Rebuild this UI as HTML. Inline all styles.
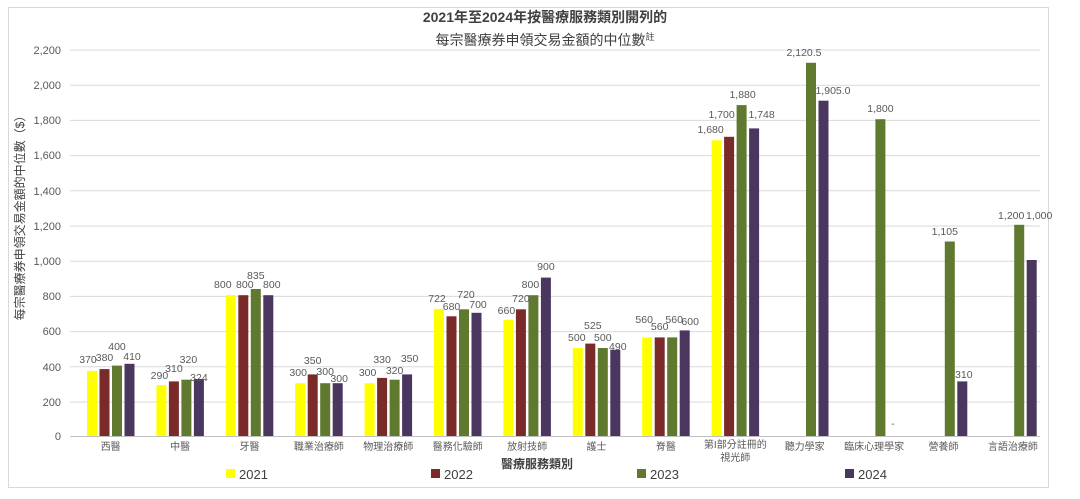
<!DOCTYPE html>
<html><head><meta charset="utf-8"><style>
html,body{margin:0;padding:0;background:#fff;}
svg{display:block;font-family:"Liberation Sans","Noto Sans CJK TC",sans-serif;}
.v{font-size:10.5px;fill:#595959;text-anchor:middle;}
.c{font-size:10px;fill:#595959;text-anchor:middle;}
.t{font-size:11px;fill:#595959;text-anchor:end;}
</style></head><body>
<svg width="1080" height="499" viewBox="0 0 1080 499">
<rect x="8.5" y="7.5" width="1040" height="480" fill="#fff" stroke="#d9d9d9"/>
<text x="545" y="22" text-anchor="middle" font-size="14" font-weight="bold" fill="#404040">2021年至2024年按醫療服務類別開列的</text>
<text x="545" y="45" text-anchor="middle" font-size="14" fill="#404040">每宗醫療券申領交易金額的中位數<tspan font-size="9" dy="-5">註</tspan></text>
<g stroke="#d9d9d9" stroke-width="1">
<line x1="70" x2="1040" y1="50" y2="50"/><line x1="70" x2="1040" y1="85.2" y2="85.2"/><line x1="70" x2="1040" y1="120.4" y2="120.4"/><line x1="70" x2="1040" y1="155.6" y2="155.6"/><line x1="70" x2="1040" y1="190.8" y2="190.8"/><line x1="70" x2="1040" y1="226" y2="226"/><line x1="70" x2="1040" y1="261.2" y2="261.2"/><line x1="70" x2="1040" y1="296.4" y2="296.4"/><line x1="70" x2="1040" y1="331.6" y2="331.6"/><line x1="70" x2="1040" y1="366.8" y2="366.8"/><line x1="70" x2="1040" y1="402" y2="402"/><line x1="70" x2="1040" y1="436.5" y2="436.5" stroke="#bfbfbf"/>
</g>
<g class="t">
<text class="t" x="61" y="54">2,200</text><text class="t" x="61" y="89">2,000</text><text class="t" x="61" y="124">1,800</text><text class="t" x="61" y="159">1,600</text><text class="t" x="61" y="195">1,400</text><text class="t" x="61" y="230">1,200</text><text class="t" x="61" y="265">1,000</text><text class="t" x="61" y="300">800</text><text class="t" x="61" y="335">600</text><text class="t" x="61" y="371">400</text><text class="t" x="61" y="406">200</text><text class="t" x="61" y="440">0</text>
</g>
<text transform="translate(24,215) rotate(-90)" text-anchor="middle" font-size="12" fill="#404040">每宗醫療券申領交易金額的中位數（$）</text>

<g transform="translate(87,0)">
<rect x="0" y="370.9" width="10" height="65.1" fill="#ffff00"/><rect x="12.5" y="369.1" width="10" height="66.9" fill="#7b2a2a"/><rect x="25" y="365.6" width="10" height="70.4" fill="#5f7a2e"/><rect x="37.5" y="363.8" width="10" height="72.2" fill="#4b3660"/>
<text class="v" x="1" y="363">370</text><text class="v" x="17.5" y="361">380</text><text class="v" x="30" y="350">400</text><text class="v" x="45" y="360">410</text>
<text class="c" x="23.7" y="450">西醫</text></g>

<g transform="translate(156.4,0)">
<rect x="0" y="385" width="10" height="51" fill="#ffff00"/><rect x="12.5" y="381.4" width="10" height="54.6" fill="#7b2a2a"/><rect x="25" y="379.7" width="10" height="56.3" fill="#5f7a2e"/><rect x="37.5" y="379" width="10" height="57" fill="#4b3660"/>
<text class="v" x="3" y="379">290</text><text class="v" x="17.5" y="372">310</text><text class="v" x="32" y="363">320</text><text class="v" x="42.5" y="381">324</text>
<text class="c" x="23.7" y="450">中醫</text></g>

<g transform="translate(225.8,0)">
<rect x="0" y="295.2" width="10" height="140.8" fill="#ffff00"/><rect x="12.5" y="295.2" width="10" height="140.8" fill="#7b2a2a"/><rect x="25" y="289" width="10" height="147" fill="#5f7a2e"/><rect x="37.5" y="295.2" width="10" height="140.8" fill="#4b3660"/>
<text class="v" x="-3" y="288">800</text><text class="v" x="19" y="288">800</text><text class="v" x="30" y="279">835</text><text class="v" x="46" y="288">800</text>
<text class="c" x="23.7" y="450">牙醫</text></g>

<g transform="translate(295.2,0)">
<rect x="0" y="383.2" width="10" height="52.8" fill="#ffff00"/><rect x="12.5" y="374.4" width="10" height="61.6" fill="#7b2a2a"/><rect x="25" y="383.2" width="10" height="52.8" fill="#5f7a2e"/><rect x="37.5" y="383.2" width="10" height="52.8" fill="#4b3660"/>
<text class="v" x="3" y="376">300</text><text class="v" x="17.5" y="364">350</text><text class="v" x="30" y="375">300</text><text class="v" x="44" y="382">300</text>
<text class="c" x="23.7" y="450">職業治療師</text></g>

<g transform="translate(364.6,0)">
<rect x="0" y="383.2" width="10" height="52.8" fill="#ffff00"/><rect x="12.5" y="377.9" width="10" height="58.1" fill="#7b2a2a"/><rect x="25" y="379.7" width="10" height="56.3" fill="#5f7a2e"/><rect x="37.5" y="374.4" width="10" height="61.6" fill="#4b3660"/>
<text class="v" x="3" y="376">300</text><text class="v" x="17.5" y="363">330</text><text class="v" x="30" y="374">320</text><text class="v" x="45" y="362">350</text>
<text class="c" x="23.7" y="450">物理治療師</text></g>

<g transform="translate(434,0)">
<rect x="0" y="308.9" width="10" height="127.1" fill="#ffff00"/><rect x="12.5" y="316.3" width="10" height="119.7" fill="#7b2a2a"/><rect x="25" y="309.3" width="10" height="126.7" fill="#5f7a2e"/><rect x="37.5" y="312.8" width="10" height="123.2" fill="#4b3660"/>
<text class="v" x="3" y="302">722</text><text class="v" x="17.5" y="310">680</text><text class="v" x="32" y="298">720</text><text class="v" x="44" y="308">700</text>
<text class="c" x="23.7" y="450">醫務化驗師</text></g>

<g transform="translate(503.4,0)">
<rect x="0" y="319.8" width="10" height="116.2" fill="#ffff00"/><rect x="12.5" y="309.3" width="10" height="126.7" fill="#7b2a2a"/><rect x="25" y="295.2" width="10" height="140.8" fill="#5f7a2e"/><rect x="37.5" y="277.6" width="10" height="158.4" fill="#4b3660"/>
<text class="v" x="3" y="314">660</text><text class="v" x="17.5" y="302">720</text><text class="v" x="27" y="288">800</text><text class="v" x="42.5" y="270">900</text>
<text class="c" x="23.7" y="450">放射技師</text></g>

<g transform="translate(572.8,0)">
<rect x="0" y="348" width="10" height="88" fill="#ffff00"/><rect x="12.5" y="343.6" width="10" height="92.4" fill="#7b2a2a"/><rect x="25" y="348" width="10" height="88" fill="#5f7a2e"/><rect x="37.5" y="349.8" width="10" height="86.2" fill="#4b3660"/>
<text class="v" x="4" y="341">500</text><text class="v" x="20" y="329">525</text><text class="v" x="30" y="341">500</text><text class="v" x="45" y="350">490</text>
<text class="c" x="23.7" y="450">護士</text></g>

<g transform="translate(642.2,0)">
<rect x="0" y="337.4" width="10" height="98.6" fill="#ffff00"/><rect x="12.5" y="337.4" width="10" height="98.6" fill="#7b2a2a"/><rect x="25" y="337.4" width="10" height="98.6" fill="#5f7a2e"/><rect x="37.5" y="330.4" width="10" height="105.6" fill="#4b3660"/>
<text class="v" x="2" y="323">560</text><text class="v" x="17.5" y="330">560</text><text class="v" x="32" y="323">560</text><text class="v" x="48" y="325">600</text>
<text class="c" x="23.7" y="450">脊醫</text></g>

<g transform="translate(711.6,0)">
<rect x="0" y="140.3" width="10" height="295.7" fill="#ffff00"/><rect x="12.5" y="136.8" width="10" height="299.2" fill="#7b2a2a"/><rect x="25" y="105.1" width="10" height="330.9" fill="#5f7a2e"/><rect x="37.5" y="128.4" width="10" height="307.6" fill="#4b3660"/>
<text class="v" x="-1" y="133">1,680</text><text class="v" x="10" y="118">1,700</text><text class="v" x="31" y="98">1,880</text><text class="v" x="50" y="118">1,748</text>
<text class="c" x="23.7" y="448">第I部分註冊的</text><text class="c" x="23.7" y="461">視光師</text></g>

<g transform="translate(781,0)">
<rect x="25" y="62.8" width="10" height="373.2" fill="#5f7a2e"/><rect x="37.5" y="100.7" width="10" height="335.3" fill="#4b3660"/>
<text class="v" x="23" y="56">2,120.5</text><text class="v" x="52" y="94">1,905.0</text>
<text class="c" x="23.7" y="450">聽力學家</text></g>

<g transform="translate(850.4,0)">
<rect x="25" y="119.2" width="10" height="316.8" fill="#5f7a2e"/>
<text class="v" x="30" y="112">1,800</text><text class="v" x="42.5" y="427">-</text>
<text class="c" x="23.7" y="450">臨床心理學家</text></g>

<g transform="translate(919.8,0)">
<rect x="25" y="241.5" width="10" height="194.5" fill="#5f7a2e"/><rect x="37.5" y="381.4" width="10" height="54.6" fill="#4b3660"/>
<text class="v" x="25" y="235">1,105</text><text class="v" x="44" y="378">310</text>
<text class="c" x="23.7" y="450">營養師</text></g>

<g transform="translate(989.2,0)">
<rect x="25" y="224.8" width="10" height="211.2" fill="#5f7a2e"/><rect x="37.5" y="260" width="10" height="176" fill="#4b3660"/>
<text class="v" x="22" y="219">1,200</text><text class="v" x="50" y="219">1,000</text>
<text class="c" x="23.7" y="450">言語治療師</text></g>

<text x="537" y="468" text-anchor="middle" font-size="12" font-weight="bold" fill="#404040">醫療服務類別</text>
<g font-size="13" fill="#404040">
<rect x="226" y="469" width="9" height="9" fill="#ffff00"/><text x="239" y="479">2021</text>
<rect x="431" y="469" width="9" height="9" fill="#7b2a2a"/><text x="444" y="479">2022</text>
<rect x="637" y="469" width="9" height="9" fill="#5f7a2e"/><text x="650" y="479">2023</text>
<rect x="845" y="469" width="9" height="9" fill="#4b3660"/><text x="858" y="479">2024</text>
</g>
</svg>
</body></html>
